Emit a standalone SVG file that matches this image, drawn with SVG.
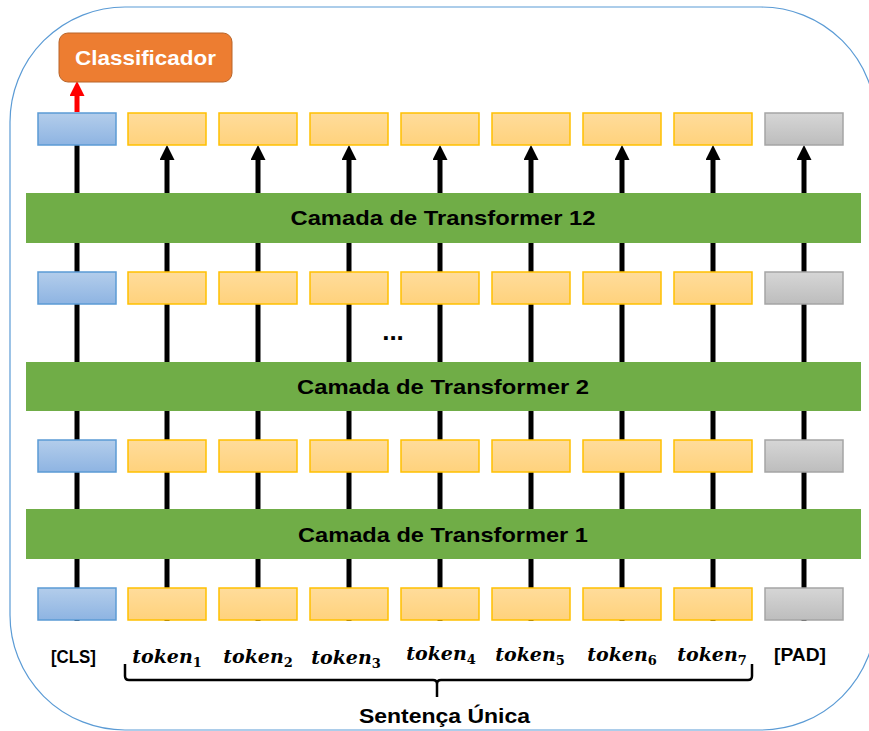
<svg xmlns="http://www.w3.org/2000/svg" width="869" height="731" viewBox="0 0 869 731">
  <defs>
    <linearGradient id="gBlue" x1="0" y1="0" x2="0" y2="1">
      <stop offset="0" stop-color="#B3CDEB"/>
      <stop offset="1" stop-color="#8EB4E2"/>
    </linearGradient>
    <linearGradient id="gYellow" x1="0" y1="0" x2="0" y2="1">
      <stop offset="0" stop-color="#FFDC9B"/>
      <stop offset="1" stop-color="#FFD27C"/>
    </linearGradient>
    <linearGradient id="gGray" x1="0" y1="0" x2="0" y2="1">
      <stop offset="0" stop-color="#D6D6D6"/>
      <stop offset="1" stop-color="#BDBDBD"/>
    </linearGradient>
    <marker id="ahBlack" viewBox="0 0 10 10" refX="0" refY="5" markerWidth="3" markerHeight="3" orient="auto" markerUnits="strokeWidth">
      <path d="M0,0 L10,5 L0,10 Z" fill="#000"/>
    </marker>
    <marker id="ahRed" viewBox="0 0 10 10" refX="0" refY="5" markerWidth="3" markerHeight="3" orient="auto" markerUnits="strokeWidth">
      <path d="M0,0 L10,5 L0,10 Z" fill="#FF0000"/>
    </marker>
  </defs>
  <style>
    .blue { fill: url(#gBlue); stroke: #5B9BD5; stroke-width: 1.5; }
    .yellow { fill: url(#gYellow); stroke: #FFC000; stroke-width: 1.5; }
    .gray { fill: url(#gGray); stroke: #A5A5A5; stroke-width: 1.5; }
    .bar { fill: #70AD47; }
    .wire { stroke: #000; stroke-width: 5; fill: none; }
    .arrow { stroke: #000; stroke-width: 5; fill: none; marker-end: url(#ahBlack); }
    .sans { font-family: "Liberation Sans", "Open Sans", sans-serif; font-weight: bold; }
    .barText { font-size: 21px; fill: #000; text-anchor: middle; }
    .lbl { font-size: 18px; fill: #000; text-anchor: middle; }
    .tok { font-family: "DejaVu Serif", "Liberation Serif", serif; font-weight: bold; font-style: italic; font-size: 19px; fill: #000; text-anchor: middle; }
    .sub { font-size: 13px; font-style: normal; }
  </style>

  <!-- outer frame -->
  <rect x="10" y="7" width="866" height="723" rx="115" ry="115" fill="#fff" stroke="#5B9BD5" stroke-width="1.2"/>

  <!-- vertical connectors running through all layers -->
  <g id="connectors">
    <line class="wire" x1="77" y1="621" x2="77" y2="145"/>
    <line class="arrow" x1="167" y1="621" x2="167" y2="160"/>
    <line class="arrow" x1="258" y1="621" x2="258" y2="160"/>
    <line class="arrow" x1="349" y1="621" x2="349" y2="160"/>
    <line class="arrow" x1="440" y1="621" x2="440" y2="160"/>
    <line class="arrow" x1="531" y1="621" x2="531" y2="160"/>
    <line class="arrow" x1="622" y1="621" x2="622" y2="160"/>
    <line class="arrow" x1="713" y1="621" x2="713" y2="160"/>
    <line class="arrow" x1="804" y1="621" x2="804" y2="160"/>
    <!-- CLS output to classifier -->
    <line x1="77" y1="112" x2="77" y2="96" stroke="#FF0000" stroke-width="5" marker-end="url(#ahRed)"/>
  </g>

  <!-- transformer layers -->
  <g id="layer12">
    <rect class="bar" x="26" y="193" width="835" height="50"/>
    <text class="sans barText" x="443" y="225" textLength="305" lengthAdjust="spacingAndGlyphs">Camada de Transformer 12</text>
  </g>
  <g id="layer2">
    <rect class="bar" x="26" y="362" width="835" height="49"/>
    <text class="sans barText" x="443" y="394" textLength="292" lengthAdjust="spacingAndGlyphs">Camada de Transformer 2</text>
  </g>
  <g id="layer1">
    <rect class="bar" x="26" y="509" width="835" height="50"/>
    <text class="sans barText" x="443" y="542" textLength="290" lengthAdjust="spacingAndGlyphs">Camada de Transformer 1</text>
  </g>

  <!-- token embedding rows -->
  <g id="row-output">
    <rect class="blue" x="38" y="113" width="78" height="32"/>
    <rect class="yellow" x="128" y="113" width="78" height="32"/>
    <rect class="yellow" x="219" y="113" width="78" height="32"/>
    <rect class="yellow" x="310" y="113" width="78" height="32"/>
    <rect class="yellow" x="401" y="113" width="78" height="32"/>
    <rect class="yellow" x="492" y="113" width="78" height="32"/>
    <rect class="yellow" x="583" y="113" width="78" height="32"/>
    <rect class="yellow" x="674" y="113" width="78" height="32"/>
    <rect class="gray" x="765" y="113" width="78" height="32"/>
  </g>
  <g id="row-12">
    <rect class="blue" x="38" y="272" width="78" height="32"/>
    <rect class="yellow" x="128" y="272" width="78" height="32"/>
    <rect class="yellow" x="219" y="272" width="78" height="32"/>
    <rect class="yellow" x="310" y="272" width="78" height="32"/>
    <rect class="yellow" x="401" y="272" width="78" height="32"/>
    <rect class="yellow" x="492" y="272" width="78" height="32"/>
    <rect class="yellow" x="583" y="272" width="78" height="32"/>
    <rect class="yellow" x="674" y="272" width="78" height="32"/>
    <rect class="gray" x="765" y="272" width="78" height="32"/>
  </g>
  <g id="row-2">
    <rect class="blue" x="38" y="440" width="78" height="32"/>
    <rect class="yellow" x="128" y="440" width="78" height="32"/>
    <rect class="yellow" x="219" y="440" width="78" height="32"/>
    <rect class="yellow" x="310" y="440" width="78" height="32"/>
    <rect class="yellow" x="401" y="440" width="78" height="32"/>
    <rect class="yellow" x="492" y="440" width="78" height="32"/>
    <rect class="yellow" x="583" y="440" width="78" height="32"/>
    <rect class="yellow" x="674" y="440" width="78" height="32"/>
    <rect class="gray" x="765" y="440" width="78" height="32"/>
  </g>
  <g id="row-input">
    <rect class="blue" x="38" y="588" width="78" height="32"/>
    <rect class="yellow" x="128" y="588" width="78" height="32"/>
    <rect class="yellow" x="219" y="588" width="78" height="32"/>
    <rect class="yellow" x="310" y="588" width="78" height="32"/>
    <rect class="yellow" x="401" y="588" width="78" height="32"/>
    <rect class="yellow" x="492" y="588" width="78" height="32"/>
    <rect class="yellow" x="583" y="588" width="78" height="32"/>
    <rect class="yellow" x="674" y="588" width="78" height="32"/>
    <rect class="gray" x="765" y="588" width="78" height="32"/>
  </g>

  <!-- ellipsis between layers -->
  <text class="sans" x="393" y="340" font-size="26" text-anchor="middle">...</text>

  <!-- classifier -->
  <g id="classificador">
    <rect x="59" y="33" width="173" height="49" rx="9" ry="9" fill="#ED7D31" stroke="#B8652A" stroke-width="1"/>
    <text class="sans" x="145.5" y="65" font-size="21" fill="#fff" text-anchor="middle" textLength="141" lengthAdjust="spacingAndGlyphs">Classificador</text>
  </g>

  <!-- input labels -->
  <g id="labels">
    <text class="sans lbl" x="73.5" y="663" textLength="45" lengthAdjust="spacingAndGlyphs">[CLS]</text>
    <text class="tok" x="167" y="663">token<tspan class="sub" dy="4">1</tspan></text>
    <text class="tok" x="258" y="663">token<tspan class="sub" dy="4">2</tspan></text>
    <text class="tok" x="346" y="664">token<tspan class="sub" dy="4">3</tspan></text>
    <text class="tok" x="441" y="660">token<tspan class="sub" dy="4">4</tspan></text>
    <text class="tok" x="530" y="661">token<tspan class="sub" dy="4">5</tspan></text>
    <text class="tok" x="622" y="661">token<tspan class="sub" dy="4">6</tspan></text>
    <text class="tok" x="712" y="661">token<tspan class="sub" dy="4">7</tspan></text>
    <text class="sans lbl" x="800" y="661" textLength="52" lengthAdjust="spacingAndGlyphs">[PAD]</text>
  </g>

  <!-- brace grouping the sentence tokens -->
  <g id="sentenca">
    <path d="M125,664 L125,676 Q125,680 129,680 L433,680 Q437,680 437,684 L437,697 M437,684 Q437,680 441,680 L748,680 Q752,680 752,676 L752,664" fill="none" stroke="#000" stroke-width="2.5"/>
    <text class="sans" x="444.5" y="723" font-size="20" text-anchor="middle" textLength="171" lengthAdjust="spacingAndGlyphs">Sentença Única</text>
  </g>
</svg>
